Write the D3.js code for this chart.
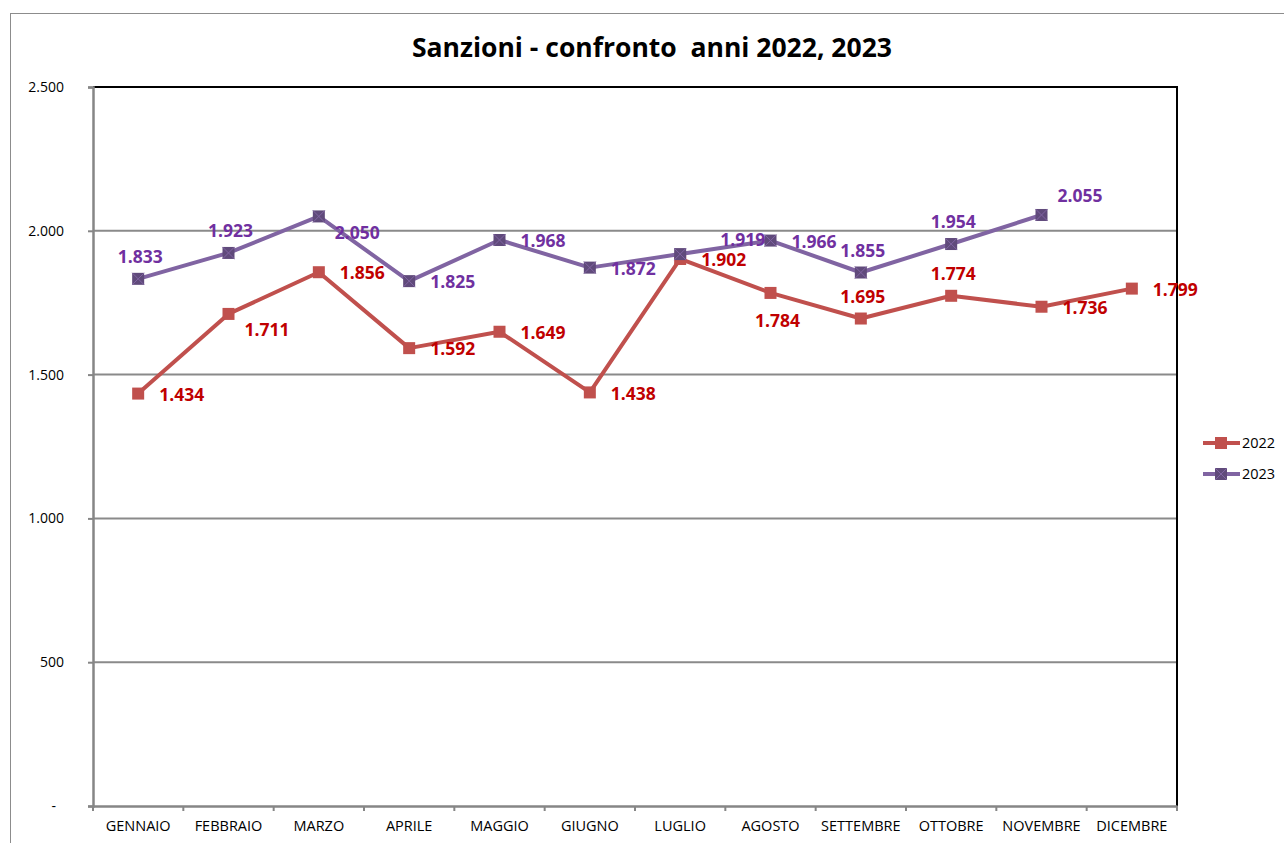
<html>
<head>
<title>Sanzioni</title>
<script src="https://d3js.org/d3.v7.min.js"></script>
<style>
body { margin: 0; background: white; }
text { font-family: "Open Sans", "Noto Sans", sans-serif; }
</style>
</head>
<body>
<svg width="1284" height="843"></svg>
<script>
// data
var mesi = ["GENNAIO","FEBBRAIO","MARZO","APRILE","MAGGIO","GIUGNO","LUGLIO","AGOSTO","SETTEMBRE","OTTOBRE","NOVEMBRE","DICEMBRE"];
var anno2022 = [1434, 1711, 1856, 1592, 1649, 1438, 1902, 1784, 1695, 1774, 1736, 1799];
var anno2023 = [1833, 1923, 2050, 1825, 1968, 1872, 1919, 1966, 1855, 1954, 2055, null];
var yTicks = [0, 500, 1000, 1500, 2000, 2500];
// where each data label sits relative to its point
var pos2022 = ["r","rb","r","r","r","r","r","b","t","t","r","r"];
var pos2023 = ["t","t","rb","r","r","r","rt","r","t","t","tr",""];

var svg = d3.select("svg");
var pL = 93, pT = 87, pR = 1177, pB = 806;

// outer chart frame
svg.append("rect").attr("x", 10.5).attr("y", 13.5).attr("width", 1400).attr("height", 900)
  .attr("fill", "white").attr("stroke", "#8c8c8c").attr("stroke-width", 1);

svg.append("text").attr("x", 652).attr("y", 57).attr("text-anchor", "middle")
  .style("font-size", "26.5px").style("font-weight", "bold").style("white-space", "pre")
  .text("Sanzioni - confronto  anni 2022, 2023");

var x = d3.scaleBand().domain(mesi).range([pL, pR]);
var y = d3.scaleLinear().domain([0, 2500]).range([pB, pT]);
var fmt = function (v) { return v == 0 ? "-" : d3.format(",")(v).replace(",", "."); };

// gridlines
svg.append("g").selectAll("line").data(yTicks.slice(1, 5)).enter().append("line")
  .attr("x1", pL).attr("x2", pR).attr("y1", function (d) { return y(d); }).attr("y2", function (d) { return y(d); })
  .attr("stroke", "#8a8a8a").attr("stroke-width", 2);

// plot frame top/right
svg.append("path").attr("d", "M" + pL + "," + pT + "H" + pR + "V" + pB)
  .attr("fill", "none").attr("stroke", "black").attr("stroke-width", 2);

// y axis
var ya = svg.append("g").attr("transform", "translate(" + pL + ",0)")
  .call(d3.axisLeft(y).tickValues(yTicks).tickFormat(fmt).tickSize(5).tickPadding(24));
ya.select(".domain").attr("stroke", "#868686").attr("stroke-width", 2.5);
ya.selectAll(".tick line").attr("stroke", "#868686").attr("stroke-width", 2);
ya.selectAll(".tick text").style("font-size", "14px").style("font-family", "'Open Sans', sans-serif").attr("fill", "black");
ya.selectAll(".tick text").filter(function (d) { return d == 0; }).attr("dx", -8);

// x axis
var xa = svg.append("g").attr("transform", "translate(0," + pB + ")")
  .call(d3.axisBottom(x).tickSize(0).tickPadding(15));
xa.select(".domain").attr("stroke", "#868686").attr("stroke-width", 2.5);
xa.selectAll(".tick text").style("font-size", "14.5px").style("font-family", "'Open Sans', sans-serif").attr("fill", "black");
xa.append("g").selectAll("line").data(d3.range(mesi.length + 1)).enter().append("line")
  .attr("x1", function (i) { return pL + i * x.step(); }).attr("x2", function (i) { return pL + i * x.step(); })
  .attr("y1", 0).attr("y2", 5).attr("stroke", "#868686").attr("stroke-width", 2);

var cx = function (i) { return x(mesi[i]) + x.bandwidth() / 2; };

var series = [
  { name: "2022", vals: anno2022, pos: pos2022, line: "#C0504D", mark: "#C0504D", label: "#C00000", cross: false },
  { name: "2023", vals: anno2023, pos: pos2023, line: "#8064A2", mark: "#604A7B", label: "#7030A0", cross: true }
];

var offs = { r: [21, 1, "start"], rb: [16, 16, "start"], rt: [40, -14, "start"], tr: [16, -19, "start"],
             b: [7, 28, "middle"], t: [2, -22, "middle"] };

series.forEach(function (s) {
  var g = svg.append("g");
  var line = d3.line().defined(function (d) { return d != null; })
    .x(function (d, i) { return cx(i); }).y(function (d) { return y(d); });
  g.append("path").datum(s.vals).attr("d", line).attr("fill", "none")
    .attr("stroke", s.line).attr("stroke-width", 4).attr("stroke-linejoin", "round");
  var pts = s.vals.map(function (v, i) { return { v: v, i: i }; }).filter(function (d) { return d.v != null; });
  var m = g.selectAll("g.pt").data(pts).enter().append("g")
    .attr("transform", function (d) { return "translate(" + cx(d.i) + "," + y(d.v) + ")"; });
  m.append("rect").attr("x", -6).attr("y", -6).attr("width", 12).attr("height", 12).attr("fill", s.mark);
  if (s.cross) {
    m.append("path").attr("d", "M-6,-6L6,6M6,-6L-6,6").attr("stroke", "#8064A2").attr("stroke-width", 1);
  }
  g.selectAll("text").data(pts).enter().append("text")
    .attr("x", function (d) { return cx(d.i) + offs[s.pos[d.i]][0]; })
    .attr("y", function (d) { return y(d.v) + offs[s.pos[d.i]][1]; })
    .attr("dy", "0.35em")
    .attr("text-anchor", function (d) { return offs[s.pos[d.i]][2]; })
    .attr("fill", s.label).style("font-size", "17.5px").style("font-weight", "bold")
    .text(function (d) { return fmt(d.v); });
});

// legend
var lg = svg.append("g").attr("transform", "translate(1203,443)");
series.forEach(function (s, k) {
  var r = lg.append("g").attr("transform", "translate(0," + (k * 31) + ")");
  r.append("line").attr("x1", 0).attr("x2", 37).attr("stroke", s.line).attr("stroke-width", 4);
  r.append("rect").attr("x", 12).attr("y", -6).attr("width", 12).attr("height", 12).attr("fill", s.mark);
  if (s.cross) r.append("path").attr("d", "M12,-6L24,6M24,-6L12,6").attr("stroke", "#8064A2").attr("stroke-width", 1);
  r.append("text").attr("x", 39).attr("dy", "0.35em").style("font-size", "14.5px").text(s.name);
});
</script>
</body>
</html>
